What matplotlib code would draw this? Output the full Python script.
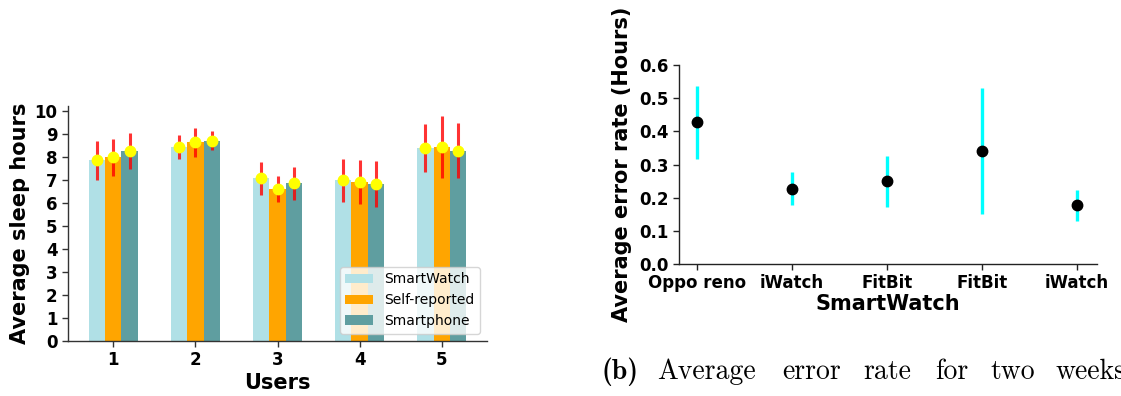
import numpy as np
import matplotlib
matplotlib.use("Agg")
import matplotlib.pyplot as plt

# ---- data: average sleep hours per user ----
users = ["1", "2", "3", "4", "5"]
series_names = ["SmartWatch", "Self-reported", "Smartphone"]
smartwatch = [7.85, 8.42, 7.05, 6.97, 8.37]
self_reported = [7.97, 8.62, 6.60, 6.90, 8.42]
smartphone = [8.24, 8.69, 6.84, 6.80, 8.25]
smartwatch_err = [0.85, 0.52, 0.73, 0.94, 1.03]
self_reported_err = [0.81, 0.62, 0.56, 0.95, 1.34]
smartphone_err = [0.78, 0.41, 0.71, 0.99, 1.20]

# ---- data: average error rate per device ----
devices = ["Oppo reno", "iWatch", "FitBit", "FitBit", "iWatch"]
error_rate = [0.428, 0.227, 0.249, 0.342, 0.177]
error_rate_err = [0.11, 0.05, 0.078, 0.19, 0.047]

caption_words = ["(b)", "Average", "error", "rate", "for", "two", "weeks"]

W, H = 1121, 396
fig = plt.figure(figsize=(W / 100, H / 100), dpi=100)
fig.patch.set_facecolor("white")

# ---------------- left panel: grouped bars ----------------
ax1 = fig.add_axes([68 / W, 1 - 340.7 / H, (487 - 68) / W, (340.7 - 106) / H])
x = np.arange(1, len(users) + 1)
bw = 0.2
colors = ["powderblue", "orange", "cadetblue"]
vals = [smartwatch, self_reported, smartphone]
errs = [smartwatch_err, self_reported_err, smartphone_err]
for i, (v, e, c, name) in enumerate(zip(vals, errs, colors, series_names)):
    pos = x + (i - 1) * bw
    ax1.bar(pos, v, width=bw, color=c, label=name, zorder=2)
    ax1.errorbar(pos, v, yerr=e, fmt="none", ecolor="red", elinewidth=2.2,
                 alpha=0.8, capsize=0, zorder=3)
    ax1.plot(pos, v, "o", color="yellow", ms=7.5, zorder=4)

ax1.set_xlim(0.45, 5.55)
ax1.set_ylim(0, 10.2)
ax1.set_xticks(x)
ax1.set_xticklabels(users)
ax1.set_yticks(range(0, 11))
for s in ["top", "right"]:
    ax1.spines[s].set_visible(False)
for s in ["left", "bottom"]:
    ax1.spines[s].set_color("#333333")
    ax1.spines[s].set_linewidth(1.0)
ax1.tick_params(axis="both", labelsize=12, color="#333333", length=4, width=1)
for lab in ax1.get_xticklabels() + ax1.get_yticklabels():
    lab.set_fontweight("bold")
ax1.set_xlabel("Users", fontsize=15, fontweight="bold", labelpad=3)
ax1.set_ylabel("Average sleep hours", fontsize=15, fontweight="bold", labelpad=3)
leg = ax1.legend(loc="lower right", fontsize=10, framealpha=0.8,
                 edgecolor="#cccccc", fancybox=True)

# ---------------- right panel: error rate points ----------------
ax2 = fig.add_axes([679 / W, 1 - 264 / H, (1096.7 - 679) / W, (264 - 65) / H])
xi = np.arange(len(devices))
ax2.errorbar(xi, error_rate, yerr=error_rate_err, fmt="o", color="black",
             ms=7.5, ecolor="cyan", elinewidth=2.4, capsize=0, zorder=3)
ax2.set_xlim(-0.19, 4.21)
ax2.set_ylim(0, 0.6)
ax2.set_xticks(xi)
ax2.set_xticklabels(devices)
yt = np.arange(0, 0.61, 0.1)
ax2.set_yticks(yt)
ax2.set_yticklabels([f"{t:.1f}" for t in yt])
for s in ["top", "right"]:
    ax2.spines[s].set_visible(False)
for s in ["left", "bottom"]:
    ax2.spines[s].set_color("#222222")
    ax2.spines[s].set_linewidth(1.0)
ax2.tick_params(axis="both", labelsize=12, color="#222222", length=4, width=1)
for lab in ax2.get_xticklabels() + ax2.get_yticklabels():
    lab.set_fontweight("bold")
ax2.set_xlabel("SmartWatch", fontsize=15, fontweight="bold", labelpad=1)
ax2.set_ylabel("Average error rate (Hours)", fontsize=15, fontweight="bold", labelpad=5)

# ---------------- caption ----------------
word_x = [601, 657, 782, 863, 935, 990, 1055]
for word, px in zip(caption_words, word_x):
    fam = "cmb10" if word == "(b)" else "cmr10"
    fig.text(px / W, 1 - 379 / H, word, fontsize=20, family=fam,
             ha="left", va="baseline", color="black")

fig.savefig("out.png", dpi=100)
